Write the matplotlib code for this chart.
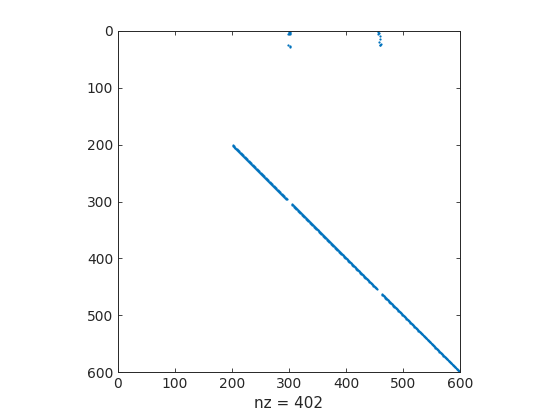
import numpy as np
import matplotlib
matplotlib.use("Agg")
import matplotlib.pyplot as plt

# sparse matrix pattern (row, col), 1-based like the source
n = 600
diag_start, diag_end = 201, 600
diag_gaps = [(297, 304), (455, 462)]

rows_a = [1, 2, 3, 4, 5, 6, 24, 27, 28]
cols_a = [300, 301, 302, 300, 301, 299, 298, 302, 301]
rows_b = [1, 3, 5, 9, 14, 20, 22, 24, 25]
cols_b = [457, 458, 456, 459, 460, 458, 461, 459, 460]

diag = np.arange(diag_start, diag_end + 1)
keep = np.ones(len(diag), bool)
for g0, g1 in diag_gaps:
    keep &= ~((diag >= g0) & (diag <= g1))
diag = diag[keep]

rows = np.concatenate([diag, rows_a, rows_b])
cols = np.concatenate([diag, cols_a, cols_b])
nz = len(rows)

fig = plt.figure(figsize=(5.6, 4.2), dpi=100)
ax = fig.add_axes([118/560, 48/420, 342/560, 341/420])
ax.plot(cols, rows, linestyle="none", marker="o", ms=1.6, mew=0,
        color="#0072BD")
ax.set_xlim(0, n)
ax.set_ylim(n, 0)
ax.set_xticks(np.arange(0, n + 1, 100))
ax.set_yticks(np.arange(0, n + 1, 100))
ax.tick_params(direction="in", length=3, top=True, right=True,
               labelsize=10, colors="#262626", width=0.6)
for s in ax.spines.values():
    s.set_color("#262626")
    s.set_linewidth(0.7)
ax.set_xlabel("nz = %d" % nz, fontsize=11, color="#262626", labelpad=4)

fig.savefig("out.png", dpi=100)
